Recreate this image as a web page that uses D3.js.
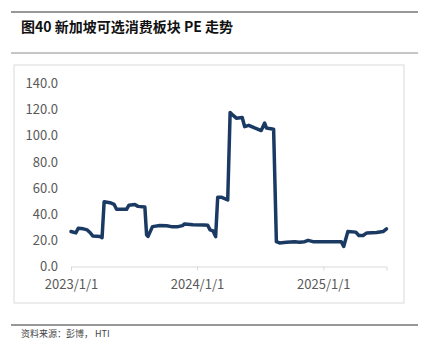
<!DOCTYPE html>
<html>
<head>
<meta charset="utf-8">
<script src="https://cdn.jsdelivr.net/npm/d3@7"></script>
<style>
  body { margin: 0; background: #fff; }
  svg text { font-family: "Noto Sans CJK SC", "Noto Sans", sans-serif; }
</style>
</head>
<body>
<script>
// PE series
const dates = [
  '2023-01-01', '2023-01-15', '2023-01-22', '2023-02-06', '2023-02-17', '2023-02-25',
  '2023-03-05', '2023-03-26', '2023-04-01', '2023-04-07', '2023-04-24', '2023-05-06',
  '2023-05-13', '2023-06-11', '2023-06-18', '2023-07-05', '2023-07-14', '2023-08-03',
  '2023-08-08', '2023-08-12', '2023-08-25', '2023-09-15', '2023-10-05', '2023-10-19',
  '2023-11-07', '2023-11-20', '2023-11-26', '2023-12-20', '2024-01-22', '2024-02-01',
  '2024-02-08', '2024-02-16', '2024-02-24', '2024-03-01', '2024-03-11', '2024-03-30',
  '2024-04-06', '2024-04-14', '2024-04-24', '2024-05-11', '2024-05-18', '2024-05-30',
  '2024-06-16', '2024-07-05', '2024-07-15', '2024-07-20', '2024-07-29', '2024-08-10',
  '2024-08-18', '2024-08-27', '2024-09-16', '2024-10-10', '2024-10-24', '2024-11-08',
  '2024-11-18', '2024-12-02', '2025-01-10', '2025-02-22', '2025-03-01', '2025-03-13',
  '2025-04-05', '2025-04-14', '2025-04-26', '2025-05-07', '2025-06-04', '2025-06-23',
  '2025-07-03'
];
const peValues = [
  26.8, 25.7, 29.3, 28.8, 28.0, 26.0,
  23.4, 22.9, 22.0, 49.6, 48.8, 47.5,
  43.8, 43.8, 46.9, 47.4, 46.0, 45.5,
  24.2, 23.0, 30.5, 31.3, 31.2, 30.5,
  30.5, 31.3, 32.6, 32.0, 31.7, 31.5,
  28.0, 27.3, 22.9, 53.0, 53.0, 50.9,
  117.9, 115.8, 113.5, 114.0, 107.0, 108.0,
  106.0, 104.0, 109.7, 106.0, 105.5, 105.0,
  19.0, 18.0, 18.5, 19.0, 18.6, 19.0,
  20.0, 19.0, 19.0, 19.0, 15.3, 26.7,
  26.3, 23.7, 23.7, 25.7, 26.0, 26.7,
  28.8
];
const yTicks = [0, 20, 40, 60, 80, 100, 120, 140];
const xTickDates = ['2023-01-01', '2024-01-01', '2025-01-01'];

const title = '图40 新加坡可选消费板块 PE 走势';
const source = '资料来源：彭博， HTI';

const width = 426;
const height = 353;
const parse = d3.timeParse('%Y-%m-%d');
const data = dates.map((d, i) => ({ date: parse(d), value: peValues[i] }));

const svg = d3.select('body').append('svg')
  .attr('width', width)
  .attr('height', height);

// header / footer rules
svg.append('line').attr('x1', 11).attr('x2', 418).attr('y1', 12).attr('y2', 12)
  .attr('stroke', '#333').attr('stroke-width', 1.2);
svg.append('line').attr('x1', 11).attr('x2', 418).attr('y1', 53).attr('y2', 53)
  .attr('stroke', '#8c8c8c').attr('stroke-width', 1);
svg.append('line').attr('x1', 11).attr('x2', 418).attr('y1', 325).attr('y2', 325)
  .attr('stroke', '#333').attr('stroke-width', 1.2);

svg.append('text')
  .attr('x', 21).attr('y', 32)
  .attr('font-size', 14).attr('font-weight', 'bold').attr('fill', '#111')
  .text(title);

svg.append('text')
  .attr('x', 21).attr('y', 337)
  .attr('font-size', 9).attr('fill', '#444')
  .text(source);

// chart frame
svg.append('rect')
  .attr('x', 14).attr('y', 65).attr('width', 390).attr('height', 238)
  .attr('fill', 'none').attr('stroke', '#d9d9d9').attr('stroke-width', 1);

const x = d3.scaleTime()
  .domain(d3.extent(data, d => d.date))
  .range([71, 386.5]);

const y = d3.scaleLinear()
  .domain([0, 140])
  .range([266.5, 83.5]);

// y axis labels, no line
const yAxis = svg.append('g')
  .attr('transform', 'translate(58,0)')
  .call(d3.axisLeft(y).tickValues(yTicks).tickSize(0).tickPadding(0).tickFormat(d3.format('.1f')));
yAxis.select('.domain').remove();
yAxis.selectAll('text')
  .attr('font-size', 13).attr('fill', '#595959')
  .attr('font-family', 'Calibri, Carlito, "Liberation Sans", sans-serif');

// x axis
const xAxis = svg.append('g')
  .attr('transform', `translate(0,${y(0)})`)
  .call(d3.axisBottom(x)
    .tickValues(xTickDates.map(parse))
    .tickSize(4).tickPadding(9)
    .tickFormat(d3.timeFormat('%Y/%-m/%-d')));
xAxis.select('.domain').attr('stroke', '#d9d9d9');
xAxis.selectAll('.tick line').attr('stroke', '#d9d9d9');
xAxis.selectAll('text')
  .attr('font-size', 13).attr('fill', '#595959')
  .attr('font-family', 'Calibri, Carlito, "Liberation Sans", sans-serif');

const line = d3.line()
  .x(d => x(d.date))
  .y(d => y(d.value));

svg.append('path')
  .datum(data)
  .attr('d', line)
  .attr('fill', 'none')
  .attr('stroke', '#1b3a63')
  .attr('stroke-width', 3.5)
  .attr('stroke-linejoin', 'round')
  .attr('stroke-linecap', 'round');
</script>
</body>
</html>
